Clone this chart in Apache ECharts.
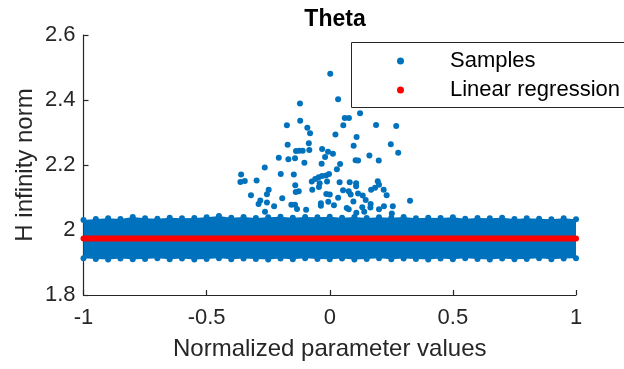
<!DOCTYPE html>
<html>
<head>
<meta charset="utf-8">
<script src="https://cdn.jsdelivr.net/npm/echarts@6/dist/echarts.min.js"></script>
<style>
  html, body { margin: 0; padding: 0; background: #fff; }
  #chart { width: 624px; height: 369px; }
</style>
</head>
<body>
<div id="chart"></div>
<script>
// dense band of samples: upper / lower edge
const bandX = [-1, -0.95, -0.9, -0.85, -0.8, -0.75, -0.7, -0.65, -0.6, -0.55,
  -0.5, -0.45, -0.4, -0.35, -0.3, -0.25, -0.2, -0.15, -0.1, -0.05,
  0, 0.05, 0.1, 0.15, 0.2, 0.25, 0.3, 0.35, 0.4, 0.45,
  0.5, 0.55, 0.6, 0.65, 0.7, 0.75, 0.8, 0.85, 0.9, 0.95, 1];
const bandTop = [2.031, 2.034, 2.036, 2.034, 2.040, 2.036, 2.035, 2.038, 2.036, 2.037,
  2.039, 2.043, 2.038, 2.040, 2.037, 2.039, 2.041, 2.038, 2.040, 2.039,
  2.041, 2.038, 2.040, 2.037, 2.039, 2.038, 2.040, 2.036, 2.038, 2.037,
  2.039, 2.035, 2.037, 2.036, 2.038, 2.034, 2.036, 2.035, 2.033, 2.036, 2.033];
const bandBottom = [1.913, 1.911, 1.909, 1.912, 1.910, 1.911, 1.913, 1.910, 1.912, 1.909,
  1.911, 1.913, 1.910, 1.912, 1.911, 1.909, 1.912, 1.910, 1.913, 1.911,
  1.910, 1.912, 1.909, 1.911, 1.913, 1.910, 1.912, 1.911, 1.909, 1.912,
  1.910, 1.913, 1.911, 1.909, 1.912, 1.910, 1.911, 1.913, 1.910, 1.912, 1.913];

// scattered samples above the band
const outlierX = [0.002, 0.034, -0.121, 0.123, 0.061, 0.078, -0.120, -0.174, 0.055, 0.188,
  0.270, -0.091, -0.080, 0.023, 0.109, -0.085, -0.171, 0.248, 0.097, -0.031,
  -0.137, -0.124, -0.110, -0.083, -0.007, 0.013, 0.278, -0.207, -0.019, -0.168,
  -0.141, 0.161, 0.105, 0.115, 0.199, -0.103, -0.033, 0.042, -0.264, 0.029,
  -0.360, -0.199, -0.146, -0.363, -0.345, -0.297, -0.073, -0.059, -0.045, -0.031,
  -0.015, -0.003, -0.041, -0.011, 0.040, 0.081, 0.107, 0.107, 0.195, 0.200,
  -0.140, -0.138, -0.126, -0.071, -0.044, 0.184, 0.168, 0.219, -0.248, -0.255,
  0.054, 0.077, 0.085, -0.320, -0.014, 0.000, 0.115, 0.134, 0.231, -0.193,
  -0.282, -0.289, -0.255, 0.034, -0.036, -0.036, -0.006, 0.096, 0.146, -0.226,
  -0.156, -0.141, -0.133, 0.017, 0.069, 0.077, 0.166, 0.165, 0.132, 0.140,
  0.220, 0.256, 0.326, -0.263, -0.096, 0.200, 0.252, 0.108];
const outlierY = [2.481, 2.402, 2.389, 2.359, 2.345, 2.345, 2.336, 2.322, 2.322, 2.323,
  2.320, 2.315, 2.298, 2.294, 2.286, 2.267, 2.262, 2.264, 2.259, 2.249,
  2.243, 2.244, 2.244, 2.246, 2.241, 2.235, 2.238, 2.222, 2.225, 2.218,
  2.221, 2.229, 2.215, 2.214, 2.214, 2.207, 2.204, 2.203, 2.192, 2.187,
  2.171, 2.172, 2.171, 2.148, 2.151, 2.152, 2.149, 2.157, 2.162, 2.166,
  2.168, 2.172, 2.144, 2.149, 2.147, 2.147, 2.144, 2.135, 2.150, 2.139,
  2.138, 2.117, 2.119, 2.124, 2.132, 2.130, 2.124, 2.124, 2.124, 2.110,
  2.122, 2.119, 2.109, 2.107, 2.111, 2.109, 2.112, 2.106, 2.107, 2.098,
  2.091, 2.080, 2.085, 2.099, 2.082, 2.075, 2.087, 2.088, 2.092, 2.073,
  2.078, 2.078, 2.065, 2.076, 2.068, 2.064, 2.080, 2.069, 2.070, 2.056,
  2.073, 2.073, 2.090, 2.056, 2.062, 2.064, 2.051, 2.053];

// linear regression
const regX = [-1, 1];
const regY = [1.974, 1.974];

const BLUE = '#0072BD';
const RED = '#FF0000';
const AXIS = '#262626';
const FONT = '"Liberation Sans", Arial, Helvetica, sans-serif';

var samples = [];
bandX.forEach(function (x, i) {
  samples.push([x, bandTop[i]]);
  samples.push([x, bandBottom[i]]);
});
outlierX.forEach(function (x, i) {
  samples.push([x, outlierY[i]]);
});

var myChart = echarts.init(document.getElementById('chart'), null, { renderer: 'canvas' });
var option = {
  backgroundColor: '#fff',
  animation: false,
  textStyle: { fontFamily: FONT },
  title: {
    text: 'Theta',
    left: 330,
    textAlign: 'center',
    top: 3,
    textStyle: { fontFamily: FONT, fontSize: 23, fontWeight: 'bold', color: '#000' }
  },
  grid: {
    left: 83.5,
    right: 48,
    top: 35,
    bottom: 74,
    containLabel: false
  },
  // legend frame runs past the right edge of the figure, as in the original
  graphic: [{
    type: 'polyline',
    z: 9,
    silent: true,
    shape: { points: [[700, 42.5], [351.5, 42.5], [351.5, 107.5], [700, 107.5]] },
    style: { fill: '#fff', stroke: AXIS, lineWidth: 1 }
  }],
  legend: {
    orient: 'vertical',
    left: 351,
    top: 42,
    padding: [8, 10, 7, 46],
    itemGap: 7,
    itemWidth: 7,
    itemHeight: 7,
    data: [
      { name: 'Samples', icon: 'circle' },
      { name: 'Linear regression', icon: 'circle' }
    ],
    textStyle: {
      fontFamily: FONT,
      fontSize: 22,
      lineHeight: 22,
      color: '#000',
      padding: [0, 0, 0, 41]
    },
    z: 10
  },
  xAxis: {
    type: 'value',
    min: -1,
    max: 1,
    interval: 0.5,
    name: 'Normalized parameter values',
    nameLocation: 'middle',
    nameGap: 42,
    nameMoveOverlap: false,
    nameTextStyle: { fontFamily: FONT, fontSize: 24, color: AXIS },
    axisLine: { onZero: false, lineStyle: { color: AXIS, width: 1.2 } },
    axisTick: { inside: true, length: 5, lineStyle: { color: AXIS, width: 1.2 } },
    axisLabel: { fontFamily: FONT, fontSize: 22, color: AXIS, margin: 12 },
    splitLine: { show: false }
  },
  yAxis: {
    type: 'value',
    min: 1.8,
    max: 2.6,
    interval: 0.2,
    name: 'H infinity norm',
    nameLocation: 'middle',
    nameGap: 46,
    nameMoveOverlap: false,
    nameTextStyle: { fontFamily: FONT, fontSize: 24, color: AXIS },
    axisLine: { show: true, onZero: false, lineStyle: { color: AXIS, width: 1.2 } },
    axisTick: { show: true, inside: true, length: 5, lineStyle: { color: AXIS, width: 1.2 } },
    axisLabel: { fontFamily: FONT, fontSize: 22, color: AXIS, margin: 8 },
    splitLine: { show: false }
  },
  series: [
    {
      name: 'Samples',
      type: 'scatter',
      data: samples,
      symbol: 'circle',
      symbolSize: 6,
      itemStyle: { color: BLUE, opacity: 1 },
      z: 3
    },
    {
      name: 'Band',
      type: 'custom',
      data: [[0, 2]],
      renderItem: function (params, api) {
        var pts = [];
        for (var i = 0; i < bandX.length; i++) {
          pts.push(api.coord([bandX[i], bandTop[i]]));
        }
        for (var j = bandX.length - 1; j >= 0; j--) {
          pts.push(api.coord([bandX[j], bandBottom[j]]));
        }
        return {
          type: 'polygon',
          shape: { points: pts },
          style: { fill: BLUE }
        };
      },
      z: 2
    },
    {
      name: 'Linear regression',
      type: 'line',
      data: regX.map(function (x, i) { return [x, regY[i]]; }),
      symbol: 'none',
      lineStyle: { color: RED, width: 6, cap: 'round' },
      itemStyle: { color: RED },
      z: 4
    }
  ]
};
option && myChart.setOption(option);
</script>
</body>
</html>
